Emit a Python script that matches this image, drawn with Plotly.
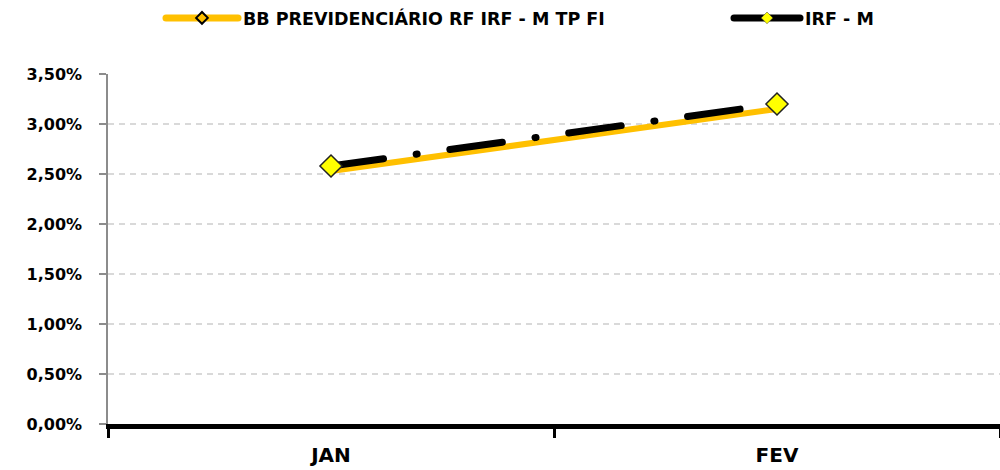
import plotly.graph_objects as go

# data
meses = ["JAN", "FEV"]
bb_prev_irfm = [2.53, 3.15]   # BB PREVIDENCIÁRIO RF IRF - M TP FI (%)
irf_m = [2.58, 3.20]          # IRF - M (%)
y_ticks = [0, 0.5, 1.0, 1.5, 2.0, 2.5, 3.0, 3.5]
y_labels = [f"{v:.2f}%".replace(".", ",") for v in y_ticks]

nome_fundo = "BB PREVIDENCIÁRIO RF IRF - M TP FI"
nome_indice = "IRF - M"

AMARELO = "#FFC000"
AMARELO_MK = "#FFFF00"
tick_font = dict(family="DejaVu Sans", size=16, color="black", weight="bold")
leg_font = dict(family="DejaVu Sans", size=17.5, color="black", weight="bold")

fig = go.Figure()

# series
fig.add_trace(go.Scatter(x=meses, y=bb_prev_irfm, mode="lines", showlegend=False,
                         line=dict(color=AMARELO, width=6), hoverinfo="skip"))
fig.add_trace(go.Scatter(x=meses, y=irf_m, mode="lines+markers", showlegend=False,
                         line=dict(color="black", width=7, dash="53px,33px,1px,33px"),
                         marker=dict(symbol="diamond", size=17, color=AMARELO_MK,
                                     line=dict(color="#222222", width=1.5)),
                         cliponaxis=False, hoverinfo="skip"))

# legend entries (one legend each so they sit apart like the original)
fig.add_trace(go.Scatter(x=[None], y=[None], mode="lines+markers", name=nome_fundo,
                         legend="legend",
                         line=dict(color=AMARELO, width=7),
                         marker=dict(symbol="diamond", size=9, color=AMARELO,
                                     line=dict(color="black", width=2))))
fig.add_trace(go.Scatter(x=[None], y=[None], mode="lines+markers", name=nome_indice,
                         legend="legend2",
                         line=dict(color="black", width=7),
                         marker=dict(symbol="diamond", size=9, color=AMARELO_MK,
                                     line=dict(color="#333333", width=0.5))))

leg_common = dict(orientation="h", xref="container", yref="container",
                  y=1.0, xanchor="left", yanchor="top",
                  font=leg_font, itemsizing="trace")

fig.update_layout(
    width=1000, height=470,
    margin=dict(l=108, r=0, t=74, b=46, autoexpand=False),
    paper_bgcolor="white", plot_bgcolor="white",
    legend=dict(x=0.161, itemwidth=72, **leg_common),
    legend2=dict(x=0.729, itemwidth=66, **leg_common),
)

fig.update_xaxes(
    type="category", range=[-0.5, 1.5], automargin=False,
    showline=True, linecolor="black", linewidth=5,
    ticks="outside", tickson="boundaries", ticklen=9, tickwidth=3, tickcolor="black",
    ticklabelstandoff=9,
    showgrid=False, zeroline=False,
    tickfont=dict(family="DejaVu Sans", size=20, color="black", weight="bold"),
)
fig.update_yaxes(
    range=[0, 3.5], tickvals=y_ticks, ticktext=y_labels, automargin=False,
    showline=True, linecolor="#8c8c8c", linewidth=1.5,
    ticks="outside", ticklen=7, tickwidth=1.5, tickcolor="#8c8c8c",
    ticklabelstandoff=14,
    showgrid=True, gridcolor="#d9d9d9", gridwidth=1.5, griddash="6px,5px",
    zeroline=False, tickfont=tick_font,
)

post = """
document.body.style.margin = '0';
document.querySelectorAll('.scatterlayer .js-line').forEach(function(p){
  p.style.strokeLinecap = 'round';
});
document.querySelectorAll('.legendlines path').forEach(function(p){
  p.style.strokeLinecap = 'round';
});
"""
fig.write_html("out.html", post_script=post, config={"displayModeBar": False})
